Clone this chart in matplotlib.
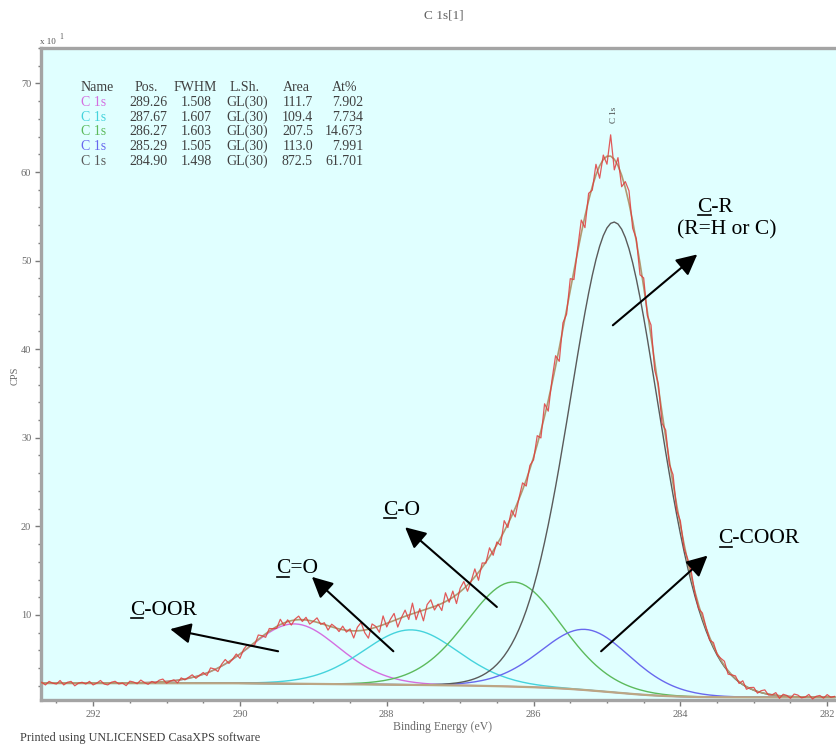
import numpy as np
import matplotlib
matplotlib.use("Agg")
import matplotlib.pyplot as plt
from matplotlib.lines import Line2D
from matplotlib.patches import FancyArrowPatch
from matplotlib.ticker import MultipleLocator

SERIF = ["Liberation Serif", "DejaVu Serif"]

# ---- C 1s peak-fit table ----
comp_names = ["C 1s", "C 1s", "C 1s", "C 1s", "C 1s"]
comp_pos = [289.26, 287.67, 286.27, 285.29, 284.90]
comp_fwhm = [1.508, 1.607, 1.603, 1.505, 1.498]
comp_shape = ["GL(30)", "GL(30)", "GL(30)", "GL(30)", "GL(30)"]
comp_area = [111.7, 109.4, 207.5, 113.0, 872.5]
comp_at = [7.902, 7.734, 14.673, 7.991, 61.701]
comp_colors = ["#d46ee0", "#45d3dc", "#5cba5c", "#6868ee", "#5a5a5a"]
gl_mix = 0.30
# plotted counts (CPS x 10) per unit of fitted area
area_to_counts = 0.095

# ---- scan: energy grid and Shirley end levels (CPS x 10) ----
be_first = 292.70
be_step = 0.05
bg_high = 2.3
bg_low = 0.7

# measured counts minus fitted envelope (CPS x 10), one value per channel
residual = [
    0.1, -0.2, 0.2, 0.0, -0.1, 0.3, -0.2, 0.1, 0.2, -0.3, 0.0, 0.1, -0.1, 0.2, -0.2,
    0.0, 0.3, -0.1, -0.2, 0.1, 0.2, -0.1, 0.0, -0.3, 0.2, 0.1, -0.1, 0.3, 0.0, -0.2,
    0.1, -0.1, 0.2, 0.3, -0.2, 0.0, 0.1, -0.3, 0.2, -0.1, 0.1, 0.3, -0.2, 0.0, 0.2,
    -0.3, 0.4, 0.1, -0.4, 0.2, 0.5, -0.2, 0.0, 0.3, -0.5, 0.2, 0.4, -0.1, -0.3, 0.5,
    0.1, -0.4, 0.3, 0.0, -0.2, 0.6, -0.3, 0.2, -0.5, 0.1, 0.4, -0.2, 0.3, -0.4, 0.0,
    0.5, -0.1, 0.2, -0.5, 0.3, 0.1, -0.3, 0.4, -0.2, 0.2,
    -0.8, 0.4, 0.9, -0.3, -1.0, 0.5, 0.1, -0.7, 1.0, -0.4, 0.3, 0.8, -0.9, 0.0, 0.7,
    -0.5, 1.2, -0.8, 0.3, -1.2, 0.5, 0.9, -0.4, 0.1, -0.8, 1.0, -0.3, 0.7, -1.0, 0.4,
    0.8, -0.7, 0.0, 0.9, -0.9, 0.5, -0.1, 1.0, -0.5, 0.3, -0.8, 1.2, -0.4, 0.7, -1.0,
    0.1, 0.8, -0.7, 0.4, -0.3,
    1.0, -0.8, 1.4, -1.2, 0.4, 1.2, -1.5, 0.7, -0.5, 1.3, -1.0, 0.3, 1.5, -1.3, 0.8,
    -0.4, 1.2, -1.4, 0.5, -0.9, 2.4, -1.2, 0.9, -1.3, 0.7, 1.4, -0.8, 0.3, -1.3, 1.0,
    -0.5, 1.3, -0.9, 0.4, -1.2, 0.8, -0.4, 1.0, -0.6, 0.5,
    -0.5, 0.3, 0.6, -0.2, -0.4, 0.5, 0.1, -0.3, 0.4, -0.1, 0.2, 0.5, -0.4, 0.0, 0.3,
    -0.2, 0.4, -0.3, 0.1, 0.3, -0.2, 0.2, 0.4, -0.1, 0.0, 0.3, -0.3, 0.2, 0.1, -0.2,
    0.3, 0.2, -0.1, 0.0, 0.3, -0.2, 0.1, 0.2, -0.1, 0.3, 0.0, 0.1,
]

# chemical-state labels: (text, label x, label y, arrow tail, arrow head)
labels = [
    ("C-OOR", 291.50, 10.0, (289.48, 5.9), (290.95, 8.4)),
    ("C=O", 289.51, 14.7, (287.91, 5.9), (289.02, 14.3)),
    ("C-O", 288.05, 21.3, (286.50, 10.9), (287.75, 19.9)),
    ("C-COOR", 283.48, 18.1, (285.08, 5.9), (283.63, 16.7)),
    ("C-R", 283.77, 55.5, (284.92, 42.7), (283.77, 50.7)),
]
label_extra = ("(R=H or C)", 284.04, 53.0)


def gl_shape(x, pos, fwhm, m):
    u2 = ((x - pos) / fwhm) ** 2
    return np.exp(-4.0 * np.log(2.0) * (1.0 - m) * u2) / (1.0 + 4.0 * m * u2)


be = be_first - be_step * np.arange(len(residual))
fine = np.linspace(-30, 30, 600001)
unit_int = np.trapezoid(gl_shape(fine, 0.0, 1.0, gl_mix), fine)

comps = []
for p, f, a in zip(comp_pos, comp_fwhm, comp_area):
    height = a * area_to_counts / (unit_int * f)
    comps.append(height * gl_shape(be, p, f, gl_mix))
comps = np.array(comps)
peak_sum = comps.sum(axis=0)

# Shirley-type background: step follows the peak area on the low-BE side
cum_low = np.cumsum(peak_sum[::-1])[::-1]
bg = bg_low + (bg_high - bg_low) * cum_low / cum_low[0]
envelope = bg + peak_sum
raw = envelope + np.array(residual)

W, H = 836, 746
fig = plt.figure(figsize=(W / 100, H / 100), dpi=100)
fig.patch.set_facecolor("white")
ax = fig.add_axes([41 / W, 46 / H, (W - 41) / W, 652 / H])
ax.set_facecolor("#e0ffff")

for c, col in zip(comps, comp_colors):
    ax.plot(be, bg + c, color=col, lw=1.0, zorder=2)
ax.plot(be, bg, color="#bca684", lw=1.6, zorder=3)
ax.plot(be, envelope, color="#b09a72", lw=1.2, zorder=4)
ax.plot(be, raw, color="#e03c3c", lw=0.9, alpha=0.85, zorder=5)

ax.set_xlim(292.71, 281.88)
ax.set_ylim(0.4, 74.0)
ax.xaxis.set_major_locator(MultipleLocator(2))
ax.xaxis.set_minor_locator(MultipleLocator(0.5))
ax.yaxis.set_major_locator(MultipleLocator(10))
ax.yaxis.set_minor_locator(MultipleLocator(2))
ax.set_yticks(np.arange(10, 71, 10))
ax.tick_params(which="both", direction="out", color="#7a7a7a", width=1.0,
               labelsize=7.5, labelcolor="#6a6a6a")
ax.tick_params(which="major", length=4, pad=3)
ax.tick_params(which="minor", length=2.5)
for lab in ax.get_xticklabels() + ax.get_yticklabels():
    lab.set_family(SERIF)

for side in ["left", "top", "bottom"]:
    ax.spines[side].set_color("#a4a4a4")
    ax.spines[side].set_linewidth(2.4)
ax.spines["right"].set_visible(False)

fig.text(443 / W, 1 - 727 / H, "Binding Energy (eV)", family=SERIF, fontsize=8.5,
         color="#6a6a6a", ha="center", va="center")
fig.text(15 / W, 1 - 376 / H, "CPS", family=SERIF, fontsize=7.5, color="#6a6a6a",
         rotation=90, ha="center", va="center")
fig.text(444 / W, 1 - 15 / H, "C 1s[1]", family=SERIF, fontsize=9.5, color="#606060",
         ha="center", va="center")
fig.text(40 / W, 1 - 44 / H, "x 10", family=SERIF, fontsize=6.5, color="#555555",
         ha="left", va="baseline")
fig.text(59 / W, 1 - 39 / H, "1", family=SERIF, fontsize=5.5, color="#555555",
         ha="left", va="baseline")
fig.text(20 / W, 1 - 741 / H, "Printed using UNLICENSED CasaXPS software", family=SERIF,
         fontsize=8.8, color="#404040", ha="left", va="baseline")

# peak marker for the main component
ax.text(comp_pos[-1], 65.5, "C 1s", family=SERIF, fontsize=6.5, color="#404040",
        rotation=90, ha="center", va="bottom")

# quantification table (baselines in pixels from the top)
tcol = "#404040"
tfs = 10
header_base = 91
row_base = [106, 121, 135, 150, 165]
headers = [("Name", 81), ("Pos.", 135), ("FWHM", 174), ("L.Sh.", 230),
           ("Area", 283), ("At%", 332)]
for txt, x in headers:
    fig.text(x / W, 1 - header_base / H, txt, family=SERIF, fontsize=tfs, color=tcol,
             ha="left", va="baseline")
for i, y in enumerate(row_base):
    yy = 1 - y / H
    kw = dict(family=SERIF, fontsize=tfs, va="baseline")
    fig.text(81 / W, yy, comp_names[i], color=comp_colors[i], ha="left", **kw)
    fig.text(167 / W, yy, f"{comp_pos[i]:.2f}", color=tcol, ha="right", **kw)
    fig.text(212 / W, yy, f"{comp_fwhm[i]:.3f}", color=tcol, ha="right", **kw)
    fig.text(226 / W, yy, comp_shape[i], color=tcol, ha="left", **kw)
    fig.text(313 / W, yy, f"{comp_area[i]:.1f}", color=tcol, ha="right", **kw)
    fig.text(363 / W, yy, f"{comp_at[i]:.3f}", color=tcol, ha="right", **kw)

# chemical-state labels with underlined carbon and arrows
lfs = 15.5
fig.canvas.draw()
renderer = fig.canvas.get_renderer()
to_fig = fig.transFigure.inverted()
for txt, lx, ly, tail, head in labels:
    ax.text(lx, ly, txt, family=SERIF, fontsize=lfs, color="black",
            ha="left", va="baseline", zorder=7)
    probe = ax.text(lx, ly, txt[0], family=SERIF, fontsize=lfs,
                    ha="left", va="baseline")
    bb = probe.get_window_extent(renderer)
    probe.remove()
    base = ax.transData.transform((lx, ly))[1]
    p0 = to_fig.transform((bb.x0 + 1, base - 3.5))
    p1 = to_fig.transform((bb.x1 - 1, base - 3.5))
    fig.add_artist(Line2D([p0[0], p1[0]], [p0[1], p1[1]], color="black", lw=1.2))
    arr = FancyArrowPatch(tail, head, arrowstyle="-|>,head_length=0.9,head_width=0.45",
                          mutation_scale=14, color="black", lw=1.5,
                          shrinkA=0, shrinkB=0, zorder=7)
    ax.add_patch(arr)
ax.text(label_extra[1], label_extra[2], label_extra[0], family=SERIF, fontsize=lfs,
        color="black", ha="left", va="baseline", zorder=7)

fig.savefig("out.png", dpi=100)
